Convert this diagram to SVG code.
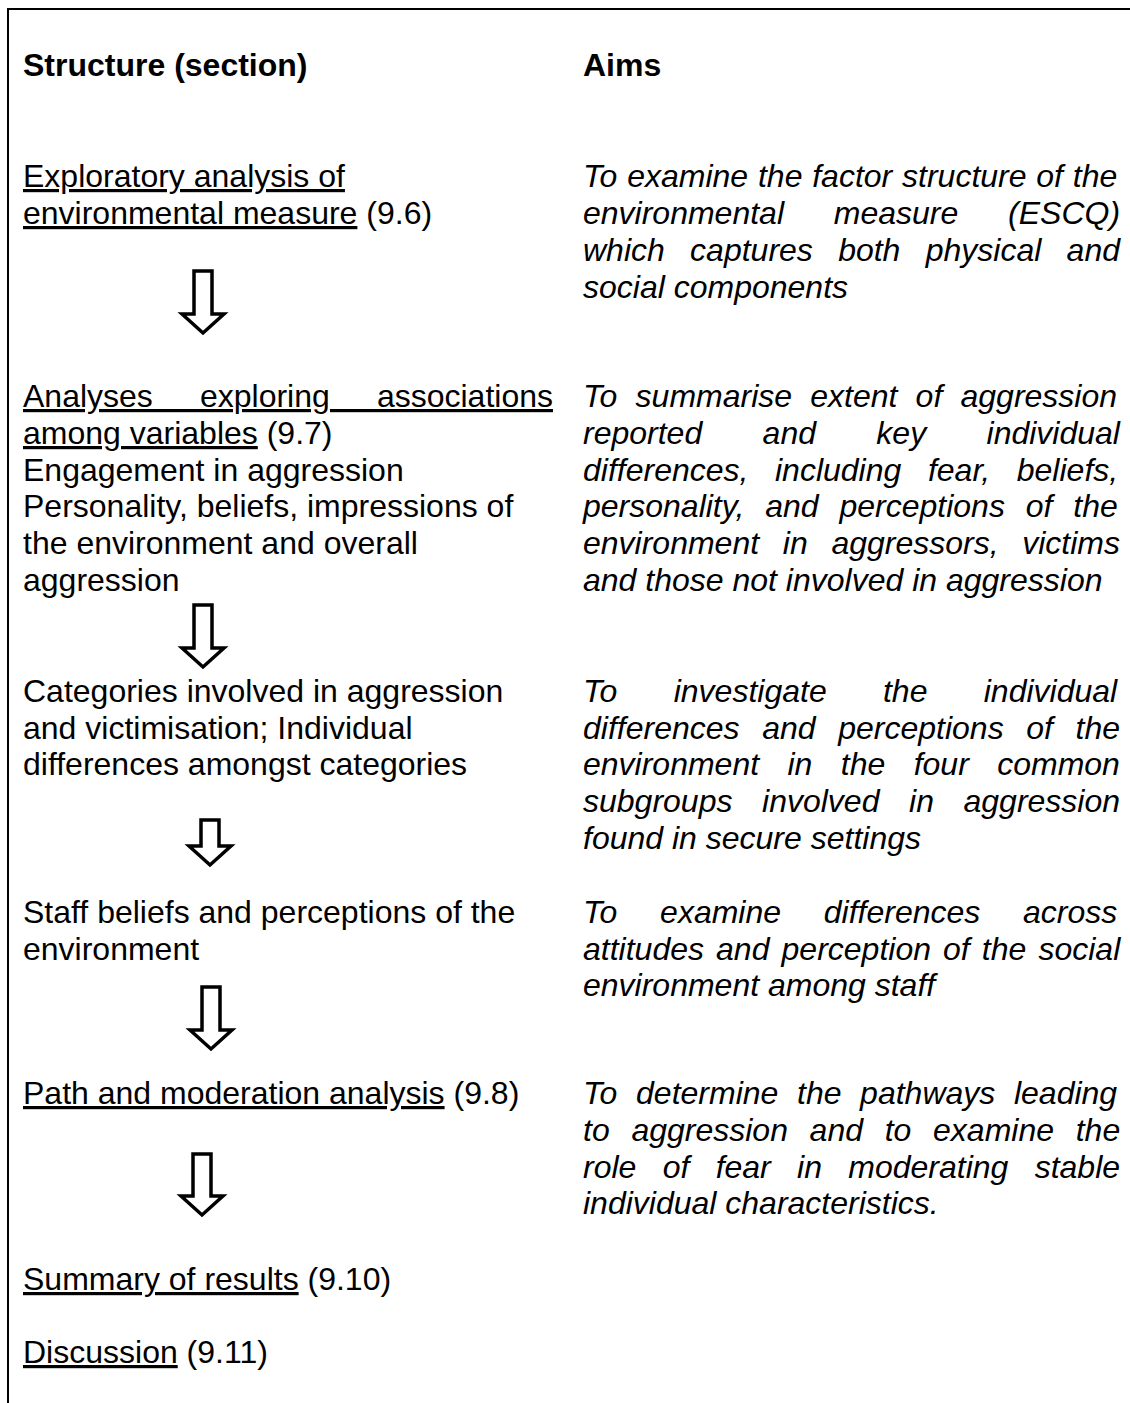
<svg xmlns="http://www.w3.org/2000/svg" width="1130" height="1403" viewBox="0 0 1130 1403">
  <style>
    text { font-family: "Liberation Sans", Arial, sans-serif; font-size: 32px; fill: #000; }
    .b { font-weight: bold; }
    .i { font-style: italic; }
    .u { text-decoration: underline; }
    .arrow { fill: #fff; stroke: #000; stroke-width: 3.5; stroke-linejoin: miter; }
    .frame { fill: none; stroke: #000; stroke-width: 2; }
  </style>
  <rect width="1130" height="1403" fill="#fff"/>
  <path class="frame" d="M8,1403 V9 H1130"/>

  <g id="header">
    <text class="b" x="23" y="76">Structure (section)</text>
    <text class="b" x="583" y="76">Aims</text>
  </g>

  <g id="s-exploratory">
    <text x="23" y="187"><tspan class="u">Exploratory analysis of</tspan></text>
    <text x="23" y="224"><tspan class="u">environmental measure</tspan> (9.6)</text>
  </g>
  <g id="a-exploratory" class="i">
    <text class="i" x="583" y="187" style="word-spacing:0.9px">To examine the factor structure of the</text>
    <text class="i" x="583" y="224" style="word-spacing:40.9px">environmental measure (ESCQ)</text>
    <text class="i" x="583" y="261" style="word-spacing:16.4px">which captures both physical and</text>
    <text class="i" x="583" y="298">social components</text>
  </g>

  <g id="s-associations">
    <text x="23" y="407" style="word-spacing:38.2px"><tspan class="u">Analyses exploring associations</tspan></text>
    <text x="23" y="444"><tspan class="u">among variables</tspan> (9.7)</text>
    <text x="23" y="481">Engagement in aggression</text>
    <text x="23" y="517">Personality, beliefs, impressions of</text>
    <text x="23" y="554">the environment and overall</text>
    <text x="23" y="591">aggression</text>
  </g>
  <g id="a-associations">
    <text class="i" x="583" y="407" style="word-spacing:9.3px">To summarise extent of aggression</text>
    <text class="i" x="583" y="444" style="word-spacing:51.5px">reported and key individual</text>
    <text class="i" x="583" y="481" style="word-spacing:17.7px">differences, including fear, beliefs,</text>
    <text class="i" x="583" y="517" style="word-spacing:12px">personality, and perceptions of the</text>
    <text class="i" x="583" y="554" style="word-spacing:14.8px">environment in aggressors, victims</text>
    <text class="i" x="583" y="591">and those not involved in aggression</text>
  </g>

  <g id="s-categories">
    <text x="23" y="702">Categories involved in aggression</text>
    <text x="23" y="739">and victimisation; Individual</text>
    <text x="23" y="775">differences amongst categories</text>
  </g>
  <g id="a-categories">
    <text class="i" x="583" y="702" style="word-spacing:47.4px">To investigate the individual</text>
    <text class="i" x="583" y="739" style="word-spacing:13.75px">differences and perceptions of the</text>
    <text class="i" x="583" y="775" style="word-spacing:19.5px">environment in the four common</text>
    <text class="i" x="583" y="812" style="word-spacing:20.7px">subgroups involved in aggression</text>
    <text class="i" x="583" y="849">found in secure settings</text>
  </g>

  <g id="s-staff">
    <text x="23" y="923">Staff beliefs and perceptions of the</text>
    <text x="23" y="960">environment</text>
  </g>
  <g id="a-staff">
    <text class="i" x="583" y="923" style="word-spacing:33.8px">To examine differences across</text>
    <text class="i" x="583" y="960" style="word-spacing:3.2px">attitudes and perception of the social</text>
    <text class="i" x="583" y="996">environment among staff</text>
  </g>

  <g id="s-path">
    <text x="23" y="1104"><tspan class="u">Path and moderation analysis</tspan> (9.8)</text>
  </g>
  <g id="a-path">
    <text class="i" x="583" y="1104" style="word-spacing:9.75px">To determine the pathways leading</text>
    <text class="i" x="583" y="1141" style="word-spacing:12.8px">to aggression and to examine the</text>
    <text class="i" x="583" y="1178" style="word-spacing:17.4px">role of fear in moderating stable</text>
    <text class="i" x="583" y="1214">individual characteristics.</text>
  </g>

  <g id="s-summary">
    <text x="23" y="1290"><tspan class="u">Summary of results</tspan> (9.10)</text>
  </g>
  <g id="s-discussion">
    <text x="23" y="1363"><tspan class="u">Discussion</tspan> (9.11)</text>
  </g>

  <!-- block arrows linking the sections, top to bottom -->
  <g id="connectors">
    <path class="arrow" d="M194,271 H212 V314 H224 L203,333 L182,314 H194 Z"/>
    <path class="arrow" d="M194,605 H212 V648 H224 L203,667 L182,648 H194 Z"/>
    <path class="arrow" d="M201,820 H219 V846 H231 L210,865 L189,846 H201 Z"/>
    <path class="arrow" d="M202,987 H220 V1030 H232 L211,1049 L190,1030 H202 Z"/>
    <path class="arrow" d="M193,1154 H211 V1196 H223 L202,1215 L181,1196 H193 Z"/>
  </g>
</svg>
